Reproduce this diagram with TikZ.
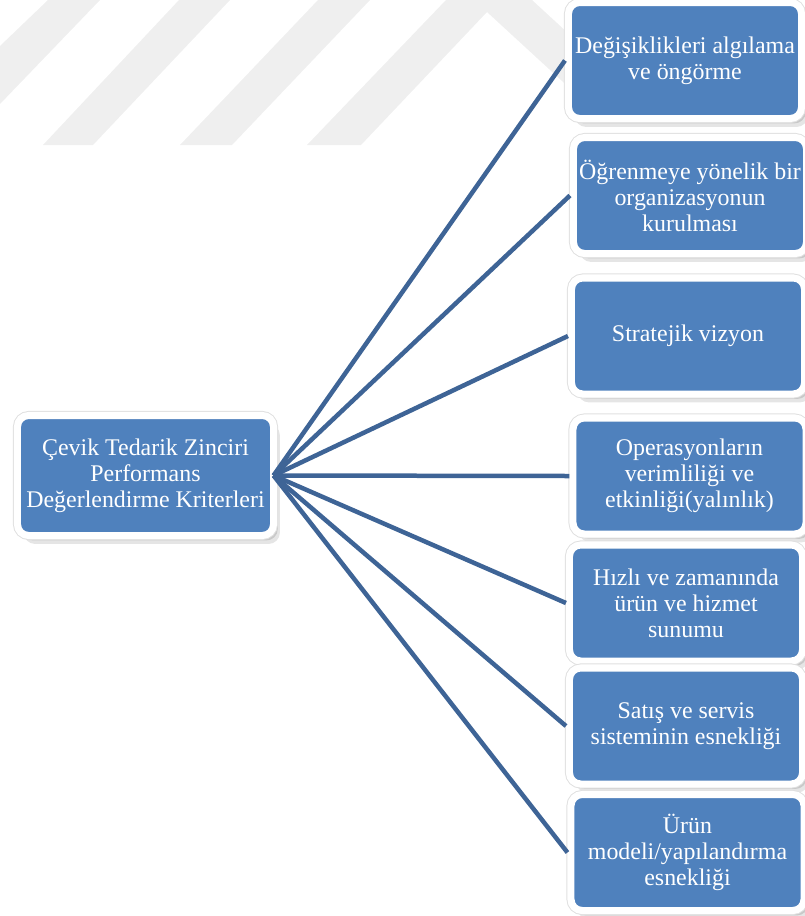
\documentclass[tikz,border=0pt]{standalone}
\usepackage{fontspec}
\setmainfont{Liberation Serif}
\usetikzlibrary{shadows,backgrounds}
\definecolor{critblue}{RGB}{79,129,189}
\definecolor{linkblue}{RGB}{62,100,150}
\definecolor{markgray}{RGB}{239,239,239}

\begin{document}
\begin{tikzpicture}[
  x=0.025cm, y=-0.025cm,
  crit/.style={draw=white, line width=5pt, fill=critblue, rounded corners=8pt,
    minimum width=5.825cm, minimum height=2.9cm, inner sep=0pt,
    align=center, text=white, font=\fontsize{17}{18.5}\selectfont,
    drop shadow={shadow xshift=3pt, shadow yshift=-3.5pt, opacity=0.12, fill=black},
    drop shadow={shadow xshift=4.5pt, shadow yshift=-6pt, opacity=0.10, fill=black},
    preaction={draw=black!12, line width=6.4pt}},
  hub/.style={crit, minimum width=6.4cm, minimum height=3cm, outer sep=0pt},
  link/.style={draw=linkblue, line width=3.2pt}
]
\useasboundingbox (0,0) rectangle (804,916);

\node[hub] (perf) at (145.5, 475.5) {Çevik Tedarik Zinciri\\Performans\\Değerlendirme Kriterleri};

\node[crit] (algi) at (685, 60.5) {Değişiklikleri algılama\\ve öngörme};
\node[crit] (ogren) at (690, 195.5) {Öğrenmeye yönelik bir\\organizasyonun\\kurulması};
\node[crit] (vizyon) at (688, 336) {Stratejik vizyon};
\node[crit] (yalin) at (689.5, 476) {Operasyonların\\verimliliği ve\\etkinliği(yalınlık)};
\node[crit] (hiz) at (686, 603) {Hızlı ve zamanında\\ürün ve hizmet\\sunumu};
\node[crit] (satis) at (686, 726) {Satış ve servis\\sisteminin esnekliği};
\node[crit] (urun) at (687.5, 852.5) {Ürün\\modeli/yapılandırma\\esnekliği};

\foreach \n in {algi,ogren,vizyon,yalin,hiz,satis,urun}
  \draw[link] (perf.east) -- (\n.west);

\begin{scope}[on background layer]
  \fill[markgray] (48,0) -- (100,0) -- (0,104) -- (0,46) -- cycle;
  \fill[markgray] (179,0) -- (230,0) -- (93,145) -- (43,145) -- cycle;
  \fill[markgray] (318,0) -- (370,0) -- (232,145) -- (180,145) -- cycle;
  \fill[markgray] (446,0) -- (532,0) -- (657,115) -- (599,115) -- (487,12)
    -- (361,145) -- (307,145) -- cycle;
\end{scope}

\end{tikzpicture}
\end{document}
